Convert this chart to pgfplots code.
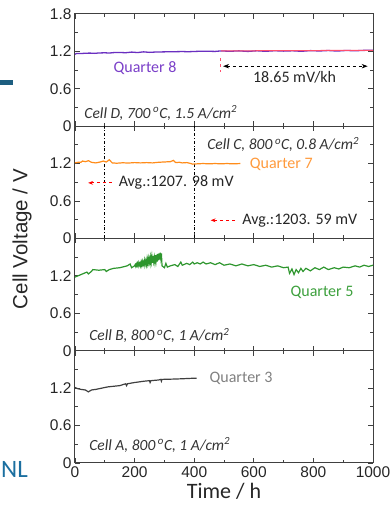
\documentclass[border=0pt]{standalone}
\usepackage{pgfplots}
\pgfplotsset{compat=1.18}
\usepackage{fontspec}
\setmainfont{Carlito}
\newfontfamily\arial{Liberation Sans}
\usetikzlibrary{arrows.meta}

\definecolor{q8}{HTML}{6A2FC0}
\definecolor{q8t}{HTML}{7A3FC8}
\definecolor{fitred}{HTML}{FF4F6E}
\definecolor{q7}{HTML}{FF8C1A}
\definecolor{q7t}{HTML}{FF9A3C}
\definecolor{q5}{HTML}{2E962E}
\definecolor{q5t}{HTML}{3DA03D}
\definecolor{q3}{HTML}{404040}
\definecolor{q3t}{HTML}{808080}
\definecolor{axc}{HTML}{404040}
\definecolor{slideblue}{HTML}{1D5E80}
\definecolor{slidetext}{HTML}{1B6FA0}

\pgfplotsset{
  panel/.style={
    scale only axis, width=298pt, height=112.3pt,
    xmin=0, xmax=1000, ymin=0, ymax=1.8,
    xtick={0,200,...,1000}, minor x tick num=1,
    ytick={0,0.6,1.2,1.8}, minor y tick num=1,
    tick align=inside,
    axis line style={line width=1pt, axc},
    every tick/.style={line width=0.8pt, axc},
    major tick length=5pt, minor tick length=3pt,
    tick label style={font=\arial\fontsize{15.5}{16}\selectfont, text=black!85},
    /pgf/number format/assume math mode=true,
    /pgf/number format/1000 sep={},
    yticklabel style={/pgf/number format/fixed, /pgf/number format/precision=1},
    clip=false,
  },
}
\tikzset{
  ann/.style={font=\fontsize{16}{18}\selectfont},
  cell/.style={font=\itshape\fontsize{15.5}{17}\selectfont, text=black!80, anchor=west},
}

\begin{document}
\begin{tikzpicture}
\useasboundingbox (0pt,0pt) rectangle (391pt,507pt);

% slide decorations
\fill[slideblue] (0pt,422pt) rectangle (13pt,427pt);
\node[anchor=west, text=slidetext, font=\fontsize{25}{27}\selectfont, inner sep=0pt] at (1pt,38pt) {NL};

% y label and x label
\node[rotate=90, font=\arial\fontsize{20.5}{22}\selectfont, text=black!85] at (22pt,268pt) {Cell Voltage / V};
\node[font=\fontsize{22}{24}\selectfont, text=black!85] at (224pt,16pt) {Time / h};

% ---------------- Panel 1 (Quarter 8) ----------------
\begin{axis}[panel, at={(75pt,380.9pt)}, anchor=south west, xticklabels={}]
\addplot[q8, line width=1.3pt] coordinates {
(0,1.15) (5,1.165) (20,1.163) (35,1.168) (50,1.17) (65,1.166) (80,1.172) (100,1.175) (115,1.171) (130,1.178) (150,1.18) (170,1.176) (190,1.186) (210,1.179) (230,1.19) (250,1.182) (270,1.187) (300,1.19) (330,1.192) (360,1.195) (380,1.192) (410,1.198) (440,1.2) (470,1.197) (490,1.205) (520,1.199) (550,1.206) (580,1.197) (610,1.207) (640,1.199) (670,1.208) (700,1.202) (730,1.207) (760,1.199) (790,1.21) (820,1.204) (850,1.211) (880,1.203) (910,1.212) (940,1.207) (970,1.214) (1000,1.215)
};
\addplot[fitred, line width=1pt] coordinates {(490,1.2055) (1000,1.215)};
\draw[fitred, dashed, line width=0.8pt] (489,1.09) -- (489,0.86);
\draw[black, dashed, line width=0.8pt, {Stealth[length=6pt]}-{Stealth[length=6pt]}] (497,0.96) -- (982,0.96);
\node[ann, text=q8t] at (235,0.93) {Quarter 8};
\node[ann, text=black!85] at (737,0.78) {18.65 mV/kh};
\node[cell] at (20,0.21) {Cell D, 700\,\textsuperscript{o}C, 1.5 A/cm\textsuperscript{2}};
\end{axis}

% ---------------- Panel 2 (Quarter 7) ----------------
\begin{axis}[panel, at={(75pt,268.6pt)}, anchor=south west, xticklabels={}, yticklabels={0,0.6,1.2,{}}]
\addplot[black, line width=0.9pt, dash dot] coordinates {(100,0) (100,1.8)};
\addplot[black, line width=0.9pt, dash dot] coordinates {(400,0) (400,1.8)};
\addplot[q7, line width=1.2pt] coordinates {
(0,1.21) (10,1.22) (20,1.22) (25,1.24) (35,1.23) (45,1.245) (55,1.22) (70,1.21) (85,1.225) (95,1.24) (105,1.225) (115,1.26) (125,1.21) (140,1.205) (160,1.212) (180,1.208) (200,1.215) (220,1.21) (240,1.215) (260,1.21) (280,1.22) (300,1.225) (320,1.23) (330,1.25) (338,1.215) (350,1.22) (360,1.21) (375,1.215) (385,1.205) (395,1.19) (410,1.195) (430,1.2) (450,1.195) (470,1.2) (490,1.195) (510,1.2) (530,1.195) (555,1.2)
};
\node[cell, anchor=east] at (965,1.51) {Cell C, 800\,\textsuperscript{o}C, 0.8 A/cm\textsuperscript{2}};
\node[ann, text=q7t, anchor=west] at (575,1.19) {Quarter 7};
\node[ann, text=black!85, anchor=west] at (135,0.89) {Avg.:1207. 98 mV};
\draw[red, dashed, line width=0.8pt, -{Stealth[length=5pt]}] (124,0.89) -- (44,0.89);
\node[ann, text=black!85, anchor=west] at (550,0.29) {Avg.:1203. 59 mV};
\draw[red, dashed, line width=0.8pt, -{Stealth[length=5pt]}] (537,0.29) -- (455,0.29);
\end{axis}

% ---------------- Panel 3 (Quarter 5) ----------------
\begin{axis}[panel, at={(75pt,156.3pt)}, anchor=south west, xticklabels={}, yticklabels={0,0.6,1.2,{}}]
\addplot[q5, line width=1.2pt] coordinates {
(0,1.18) (15,1.21) (30,1.24) (40,1.26) (45,1.23) (55,1.27) (60,1.30) (80,1.29) (100,1.30) (105,1.27) (115,1.30) (130,1.32) (150,1.33) (175,1.36) (185,1.39) (190,1.33) (200,1.36) (202,1.38) (204,1.35) (206,1.39) (208,1.36) (210,1.40) (212,1.36) (214,1.41) (216,1.37) (218,1.40) (220,1.36) (222,1.42) (224,1.37) (226,1.43) (228,1.38) (230,1.42) (232,1.37) (234,1.45) (236,1.39) (238,1.44) (240,1.38) (242,1.47) (244,1.40) (246,1.48) (248,1.41) (250,1.47) (252,1.40) (254,1.50) (256,1.42) (258,1.51) (260,1.41) (262,1.52) (264,1.43) (266,1.50) (268,1.42) (270,1.53) (272,1.44) (274,1.54) (276,1.43) (278,1.55) (280,1.45) (282,1.56) (284,1.46) (286,1.57) (288,1.48) (290,1.56) (292,1.36) (300,1.33) (305,1.40) (310,1.34) (320,1.36) (335,1.38) (345,1.35) (355,1.42) (360,1.37) (375,1.40) (385,1.38) (395,1.42) (400,1.39) (410,1.41) (420,1.39) (430,1.42) (440,1.39) (455,1.41) (470,1.38) (485,1.41) (500,1.37) (520,1.39) (540,1.36) (560,1.39) (580,1.36) (600,1.38) (620,1.35) (640,1.37) (660,1.34) (680,1.36) (700,1.33) (715,1.34) (720,1.24) (728,1.31) (735,1.22) (742,1.30) (750,1.25) (758,1.32) (765,1.27) (775,1.32) (790,1.28) (805,1.33) (820,1.30) (835,1.34) (850,1.30) (870,1.33) (885,1.31) (900,1.34) (920,1.33) (940,1.36) (955,1.34) (970,1.37) (985,1.35) (1000,1.37)
};
\node[ann, text=q5t] at (829,0.93) {Quarter 5};
\node[cell] at (36,0.25) {Cell B, 800\,\textsuperscript{o}C, 1 A/cm\textsuperscript{2}};
\end{axis}

% ---------------- Panel 4 (Quarter 3) ----------------
\begin{axis}[panel, at={(75pt,44pt)}, anchor=south west, yticklabels={0,0.6,1.2,{}}]
\addplot[q3, line width=1.2pt] coordinates {
(0,1.21) (10,1.19) (20,1.18) (35,1.17) (45,1.14) (55,1.17) (70,1.18) (90,1.20) (110,1.22) (130,1.23) (150,1.24) (170,1.27) (173,1.24) (176,1.27) (200,1.29) (230,1.31) (250,1.32) (252,1.29) (255,1.32) (280,1.33) (288,1.34) (290,1.31) (292,1.34) (330,1.345) (360,1.35) (380,1.355) (408,1.36)
};
\node[ann, text=q3t, anchor=west] at (440,1.36) {Quarter 3};
\node[cell] at (36,0.29) {Cell A, 800\,\textsuperscript{o}C, 1 A/cm\textsuperscript{2}};
\end{axis}
\end{tikzpicture}
\end{document}
